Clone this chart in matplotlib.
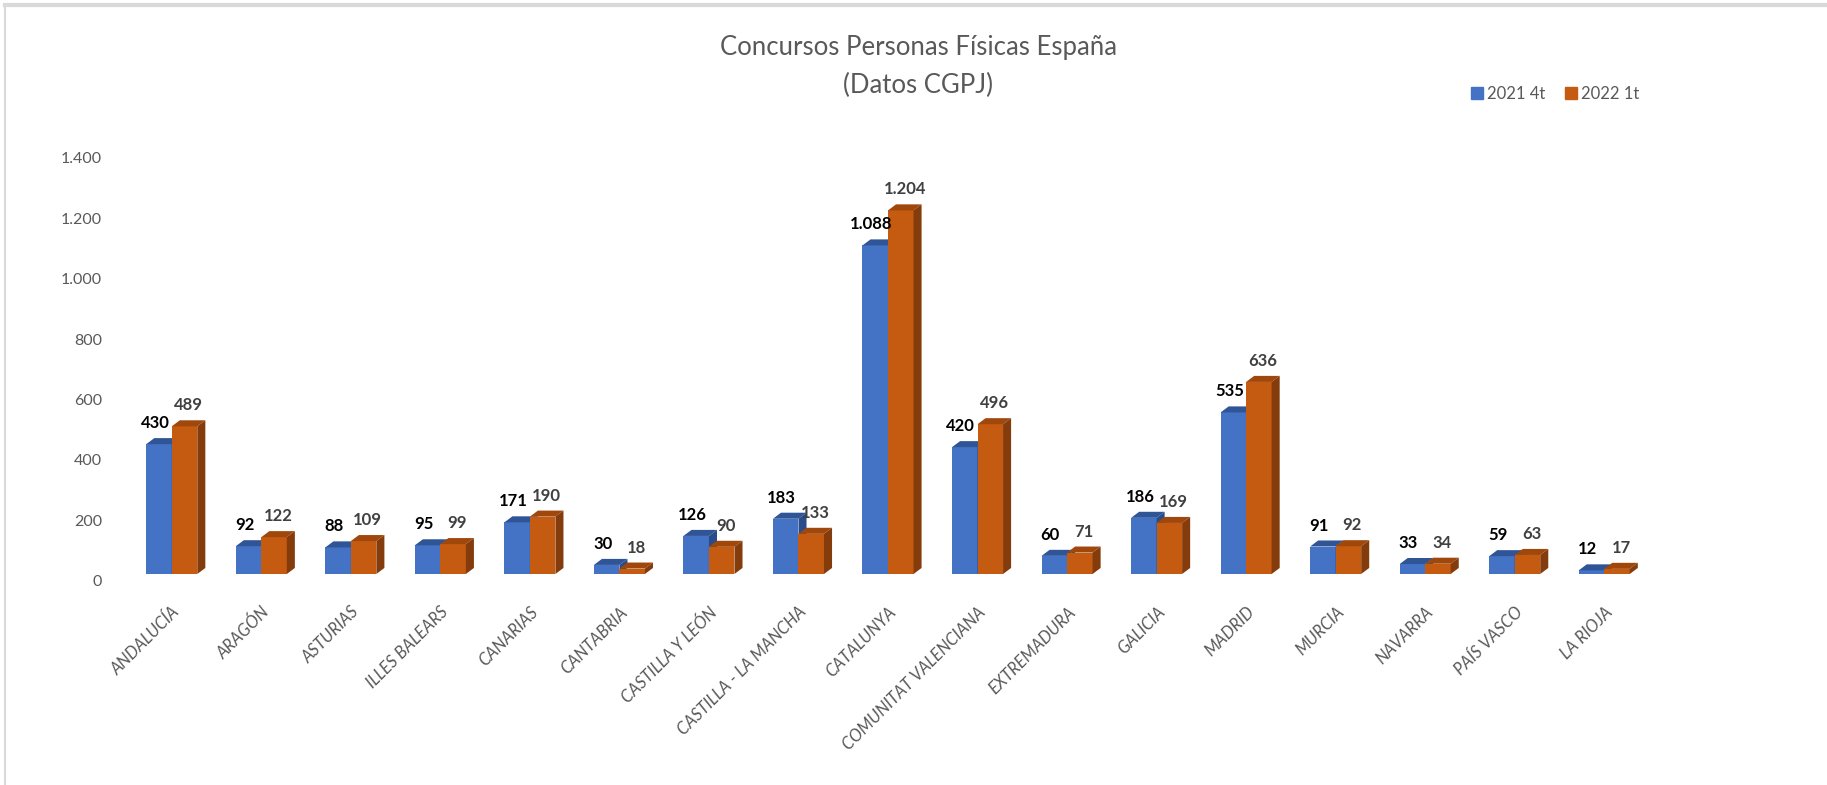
import numpy as np
import matplotlib
matplotlib.use('Agg')
import matplotlib.pyplot as plt
from matplotlib.patches import Polygon, Rectangle
from matplotlib.lines import Line2D

# ----- Datos -----
comunidades = ['ANDALUCÍA', 'ARAGÓN', 'ASTURIAS', 'ILLES BALEARS', 'CANARIAS',
               'CANTABRIA', 'CASTILLA Y LEÓN', 'CASTILLA - LA MANCHA', 'CATALUNYA',
               'COMUNITAT VALENCIANA', 'EXTREMADURA', 'GALICIA', 'MADRID', 'MURCIA',
               'NAVARRA', 'PAÍS VASCO', 'LA RIOJA']
serie_2021_4t = [430, 92, 88, 95, 171, 30, 126, 183, 1088, 420, 60, 186, 535, 91, 33, 59, 12]
serie_2022_1t = [489, 122, 109, 99, 190, 18, 90, 133, 1204, 496, 71, 169, 636, 92, 34, 63, 17]
nombres_series = ['2021 4t', '2022 1t']
yticks = [0, 200, 400, 600, 800, 1000, 1200, 1400]

plt.rcParams['font.family'] = ['Lato', 'DejaVu Sans']

AZUL = ('#4472C4', '#2F5597', '#2B4C8A')      # frente, tapa, lateral
NARANJA = ('#C55A11', '#A0480C', '#843C0C')
GRIS = '#595959'

ANCHO = 0.285
DX = 0.09    # profundidad en x (unidades de categoría)
DY = 20      # profundidad en y (unidades de datos)
DESFASE = 22  # el eje de valores queda algo más bajo que la base de las barras (vista 3D)
PX_UNIDAD = 0.302


def miles(v):
    return f'{v:,}'.replace(',', '.')


fig = plt.figure(figsize=(18.27, 7.85), dpi=100)
ymin = -30
alto_px = (1400 - ymin) * PX_UNIDAD
base_px = 574 - ymin * PX_UNIDAD
ax = fig.add_axes([127 / 1827, 1 - base_px / 785, 1522 / 1827, alto_px / 785])

x = np.arange(len(comunidades))


def barra_3d(x0, h, colores):
    frente, tapa, lateral = colores
    x1 = x0 + ANCHO
    ax.add_patch(Rectangle((x0, 0), ANCHO, h, facecolor=frente, edgecolor='none'))
    ax.add_patch(Polygon([(x0, h), (x0 + DX, h + DY), (x1 + DX, h + DY), (x1, h)],
                         closed=True, facecolor=tapa, edgecolor='none'))
    ax.add_patch(Polygon([(x1, 0), (x1 + DX, DY), (x1 + DX, h + DY), (x1, h)],
                         closed=True, facecolor=lateral, edgecolor='none'))


for i in range(len(comunidades)):
    barra_3d(x[i] - ANCHO, serie_2021_4t[i], AZUL)
    barra_3d(x[i], serie_2022_1t[i], NARANJA)
    ax.annotate(miles(serie_2021_4t[i]), (x[i] - ANCHO / 2, serie_2021_4t[i]),
                xytext=(-4, 16), textcoords='offset pixels', ha='center', va='baseline',
                fontsize=12, fontweight='bold', color='black', annotation_clip=False)
    ax.annotate(miles(serie_2022_1t[i]), (x[i] + ANCHO / 2, serie_2022_1t[i]),
                xytext=(4, 16), textcoords='offset pixels', ha='center', va='baseline',
                fontsize=12, fontweight='bold', color='#404040', annotation_clip=False)

ax.set_xlim(-0.5, len(comunidades) - 0.5)
ax.set_ylim(ymin, 1400)
ax.set_yticks([v - DESFASE for v in yticks])
ax.set_yticklabels([miles(v) for v in yticks], fontsize=11.5, color=GRIS)
ax.set_xticks(x)
ax.set_xticklabels(comunidades, rotation=45, ha='right', va='top', rotation_mode='anchor',
                   fontsize=12, style='italic', color=GRIS)
ax.tick_params(axis='both', length=0)
ax.tick_params(axis='y', pad=18)
ax.tick_params(axis='x', pad=15)
for s in ax.spines.values():
    s.set_visible(False)

# Título
fig.text(918 / 1827, 1 - 47 / 785, 'Concursos Personas Físicas España', ha='center', va='center',
         fontsize=18.5, color=GRIS)
fig.text(918 / 1827, 1 - 85 / 785, '(Datos CGPJ)', ha='center', va='center',
         fontsize=18.5, color=GRIS)

# Leyenda
handles = [Line2D([], [], marker='s', linestyle='none', markersize=9, color=AZUL[0]),
           Line2D([], [], marker='s', linestyle='none', markersize=9, color=NARANJA[0])]
fig.legend(handles, nombres_series, loc='center', bbox_to_anchor=(1554 / 1827, 1 - 94 / 785),
           ncol=2, frameon=False, fontsize=12, labelcolor=GRIS, handletextpad=0.1,
           columnspacing=1.0, handlelength=1.0)

# Marco gris
fig.add_artist(Line2D([0.003, 1], [1 - 5 / 785, 1 - 5 / 785], color='#D9D9D9', lw=3,
                      transform=fig.transFigure))
fig.add_artist(Line2D([0.003, 0.003], [0, 1 - 5 / 785], color='#D9D9D9', lw=1.5,
                      transform=fig.transFigure))

plt.savefig('out.png', dpi=100)
